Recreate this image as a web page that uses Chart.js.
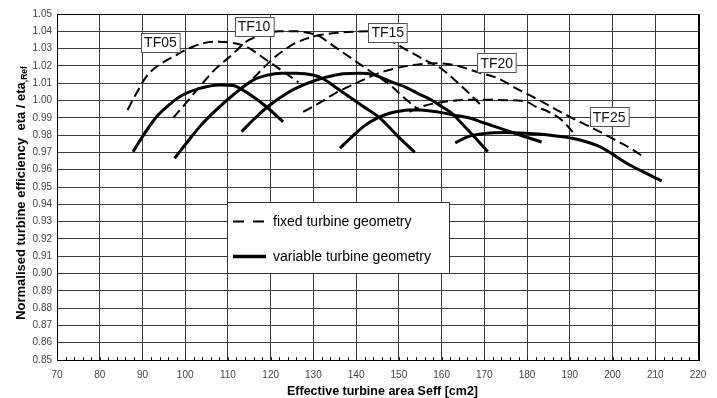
<!DOCTYPE html>
<html>
<head>
<meta charset="utf-8">
<script src="https://cdn.jsdelivr.net/npm/chart.js"></script>
<style>
  html, body { margin: 0; padding: 0; background: #fff; }
  #wrap { width: 717px; height: 398px; }
</style>
</head>
<body>
<div id="wrap"><canvas id="chart"></canvas></div>
<script>
// axis ticks
const xTicks = [70, 80, 90, 100, 110, 120, 130, 140, 150, 160, 170, 180, 190, 200, 210, 220];
const yTicks = [0.85, 0.86, 0.87, 0.88, 0.89, 0.90, 0.91, 0.92, 0.93, 0.94, 0.95,
                0.96, 0.97, 0.98, 0.99, 1.00, 1.01, 1.02, 1.03, 1.04, 1.05];

// fixed turbine geometry (dashed)
const tf05FixedX = [86.5, 88.6, 90.9, 93.3, 97.2, 101.8, 106.5, 111.1, 114.3, 119.0, 122.5, 126.5];
const tf05FixedY = [0.9945, 1.0042, 1.0138, 1.0195, 1.0253, 1.0311, 1.0340, 1.0333, 1.0311, 1.0234, 1.0175, 1.0105];

const tf10FixedX = [97.2, 100, 103.4, 107, 111.2, 114.3, 118, 122, 126, 129, 131.1, 135, 140, 145, 148.4, 151, 154.2];
const tf10FixedY = [0.990, 0.998, 1.008, 1.018, 1.027, 1.034, 1.038, 1.040, 1.040, 1.039, 1.0375, 1.031, 1.0225, 1.014, 1.008, 1.002, 0.9955];

const tf15FixedX = [115.9, 118, 120.2, 122.5, 124.9, 128, 131.9, 136, 140, 144, 146, 148.5, 152, 156, 159.6, 163, 166.5, 169.7];
const tf15FixedY = [1.0128, 1.018, 1.0234, 1.028, 1.032, 1.0355, 1.038, 1.0392, 1.0398, 1.040, 1.0385, 1.034, 1.029, 1.0235, 1.019, 1.012, 1.004, 0.996];

const tf20FixedX = [127.6, 131, 135, 140, 145, 150, 155, 159, 163, 168.3, 173, 178, 183, 187, 190.7, 195, 200, 204, 207.5];
const tf20FixedY = [0.9934, 0.998, 1.004, 1.010, 1.0155, 1.019, 1.021, 1.0215, 1.0205, 1.0165, 1.013, 1.0063, 1.000, 0.9945, 0.9897, 0.9845, 0.978, 0.9727, 0.967];

const tf25FixedX = [152.5, 156, 160, 165, 170, 175, 179.8, 182, 185, 188.1, 190.7];
const tf25FixedY = [0.9935, 0.997, 0.999, 1.0003, 1.0005, 1.0002, 0.9993, 0.9965, 0.9935, 0.9887, 0.9818];

// variable turbine geometry (solid)
const tf05VarX = [87.8, 90.5, 93.3, 96, 98.7, 103.4, 108.1, 111.2, 113.5, 115.9, 119.0, 122.9];
const tf05VarY = [0.9704, 0.981, 0.9906, 0.997, 1.0022, 1.0070, 1.0090, 1.0087, 1.006, 1.0022, 0.9964, 0.9877];

const tf10VarX = [97.5, 100.5, 103.4, 107, 111.2, 115.9, 119, 122.5, 126, 129.9, 132.5, 135, 137.8, 141.5, 145.5, 149.5, 153.7];
const tf10VarY = [0.9666, 0.976, 0.9849, 0.994, 1.0032, 1.0118, 1.0145, 1.0158, 1.0158, 1.0147, 1.0123, 1.008, 1.0032, 0.9968, 0.9899, 0.980, 0.970];

const tf15VarX = [113.2, 116, 119.3, 124, 128.7, 133, 137, 141, 144, 147, 149, 151.3, 154.5, 157.6, 160, 162.3, 165, 167.7, 170.8];
const tf15VarY = [0.982, 0.989, 0.9964, 1.0045, 1.010, 1.0135, 1.0155, 1.0158, 1.015, 1.012, 1.010, 1.008, 1.004, 1.0003, 0.9965, 0.9928, 0.986, 0.9789, 0.9704];

const tf20VarX = [136.2, 139, 142, 144.8, 147.8, 150, 152.5, 155, 157.5, 160, 163, 166.3, 170, 174.8, 179, 183.4];
const tf20VarY = [0.9724, 0.979, 0.9855, 0.9897, 0.9926, 0.9938, 0.9945, 0.9945, 0.9939, 0.993, 0.9915, 0.990, 0.987, 0.983, 0.9795, 0.976];

const tf25VarX = [163.2, 166, 170.3, 175, 179.9, 185, 190.8, 194, 197, 200, 203.3, 207, 211.5];
const tf25VarY = [0.9755, 0.979, 0.981, 0.9815, 0.981, 0.980, 0.978, 0.976, 0.9733, 0.969, 0.9637, 0.959, 0.9535];

// curve labels
const tfNames = ["TF05", "TF10", "TF15", "TF20", "TF25"];
const labelAnchors = [[94.2, 1.0335], [116.1, 1.0427], [147.4, 1.0393], [172.9, 1.0217], [199.2, 0.9905]];

const legendNames = ["fixed turbine geometry", "variable turbine geometry"];
const xTitle = "Effective turbine area Seff [cm2]";
const yTitleMain = "Normalised turbine efficiency  eta / eta";
const yTitleSub = ",Ref";

const FONT = "'Liberation Sans', Arial, sans-serif";

function pts(xs, ys) {
    return xs.map((x, i) => ({ x: x, y: ys[i] }));
}

function curve(xs, ys, dashed) {
    return {
        data: pts(xs, ys),
        showLine: true,
        borderColor: "#000",
        borderWidth: dashed ? 2 : 3,
        borderDash: dashed ? [10, 5] : [],
        pointRadius: 0,
        cubicInterpolationMode: "monotone",
        order: dashed ? 2 : 1
    };
}

const decorations = {
    id: "decorations",
    afterDatasetsDraw(chart) {
        const ctx = chart.ctx;
        const area = chart.chartArea;
        const xs = chart.scales.x, ys = chart.scales.y;

        ctx.save();
        // frame
        ctx.strokeStyle = "#000";
        ctx.lineWidth = 1;
        ctx.strokeRect(Math.round(area.left) + 0.5, Math.round(area.top) + 0.5,
                       Math.round(area.right - area.left), Math.round(area.bottom - area.top));
        ctx.beginPath();
        ctx.moveTo(Math.round(area.right) + 1.5, area.top);
        ctx.lineTo(Math.round(area.right) + 1.5, area.bottom + 1);
        ctx.stroke();

        // minor ticks on x axis
        ctx.strokeStyle = "#222";
        for (let v = xTicks[0]; v <= xTicks[xTicks.length - 1]; v += 2) {
            const px = Math.round(xs.getPixelForValue(v)) + 0.5;
            ctx.beginPath();
            ctx.moveTo(px, area.bottom);
            ctx.lineTo(px, area.bottom - 3);
            ctx.stroke();
        }

        // curve labels
        ctx.font = "14px " + FONT;
        ctx.textAlign = "center";
        ctx.textBaseline = "middle";
        tfNames.forEach((name, i) => {
            const cx = xs.getPixelForValue(labelAnchors[i][0]);
            const cy = ys.getPixelForValue(labelAnchors[i][1]);
            const w = ctx.measureText(name).width + 6;
            const h = 19;
            const l = Math.round(cx - w / 2) + 0.5, t = Math.round(cy - h / 2) + 0.5;
            ctx.fillStyle = "#fff";
            ctx.fillRect(l, t, w, h);
            ctx.strokeStyle = "#555";
            ctx.lineWidth = 1;
            ctx.strokeRect(l, t, w, h);
            ctx.fillStyle = "#111";
            ctx.fillText(name, cx, cy + 1);
        });

        // legend box
        const lx = area.left + 170, ly = area.top + 188, lw = 222, lh = 71;
        ctx.fillStyle = "#fff";
        ctx.fillRect(lx, ly, lw, lh);
        ctx.strokeStyle = "#333";
        ctx.lineWidth = 1;
        ctx.strokeRect(Math.round(lx) + 0.5, Math.round(ly) + 0.5, lw, lh);

        const row1 = ly + 19.5, row2 = ly + 54.5;
        ctx.strokeStyle = "#000";
        ctx.lineWidth = 2;
        ctx.setLineDash([11, 9]);
        ctx.beginPath();
        ctx.moveTo(lx + 6, row1);
        ctx.lineTo(lx + 39, row1);
        ctx.stroke();
        ctx.setLineDash([]);
        ctx.lineWidth = 3.5;
        ctx.beginPath();
        ctx.moveTo(lx + 6, row2);
        ctx.lineTo(lx + 39, row2);
        ctx.stroke();

        ctx.fillStyle = "#000";
        ctx.font = "14px " + FONT;
        ctx.textAlign = "left";
        ctx.fillText(legendNames[0], lx + 46, row1 + 1);
        ctx.fillText(legendNames[1], lx + 46, row2 + 1);

        // x title
        ctx.font = "bold 12.5px " + FONT;
        ctx.textAlign = "center";
        ctx.fillText(xTitle, (area.left + area.right) / 2 + 5, 392);

        // y title with subscript
        ctx.translate(21, (area.top + area.bottom) / 2 + 6);
        ctx.rotate(-Math.PI / 2);
        ctx.font = "bold 13px " + FONT;
        const w1 = ctx.measureText(yTitleMain).width;
        ctx.font = "bold 8.5px " + FONT;
        const w2 = ctx.measureText(yTitleSub).width;
        const start = -(w1 + w2) / 2;
        ctx.textAlign = "left";
        ctx.font = "bold 13px " + FONT;
        ctx.fillText(yTitleMain, start, 0);
        ctx.font = "bold 8.5px " + FONT;
        ctx.fillText(yTitleSub, start + w1, 4);
        ctx.restore();
    }
};

new Chart(document.getElementById("chart"), {
    type: "scatter",
    data: {
        datasets: [
            curve(tf05VarX, tf05VarY, false),
            curve(tf10VarX, tf10VarY, false),
            curve(tf15VarX, tf15VarY, false),
            curve(tf20VarX, tf20VarY, false),
            curve(tf25VarX, tf25VarY, false),
            curve(tf05FixedX, tf05FixedY, true),
            curve(tf10FixedX, tf10FixedY, true),
            curve(tf15FixedX, tf15FixedY, true),
            curve(tf20FixedX, tf20FixedY, true),
            curve(tf25FixedX, tf25FixedY, true)
        ]
    },
    options: {
        responsive: true,
        maintainAspectRatio: false,
        animation: false,
        layout: { padding: { top: 14, right: 19, left: 0, bottom: 0 } },
        plugins: {
            legend: { display: false },
            tooltip: { enabled: false }
        },
        scales: {
            x: {
                type: "linear",
                min: 70,
                max: 220,
                afterBuildTicks: s => { s.ticks = xTicks.map(v => ({ value: v })); },
                afterFit: s => { s.height = 38; },
                grid: { color: "#3a3a3a", lineWidth: 1, drawTicks: false },
                border: { color: "#000", width: 1 },
                ticks: {
                    autoSkip: false,
                    maxRotation: 0,
                    padding: 9,
                    color: "#444",
                    font: { family: FONT, size: 10 },
                    callback: v => String(v)
                }
            },
            y: {
                type: "linear",
                min: 0.85,
                max: 1.05,
                afterBuildTicks: s => { s.ticks = yTicks.map(v => ({ value: v })); },
                afterFit: s => { s.width = 57; },
                grid: { color: "#3a3a3a", lineWidth: 1, drawTicks: false },
                border: { color: "#000", width: 1 },
                ticks: {
                    autoSkip: false,
                    padding: 5,
                    color: "#444",
                    font: { family: FONT, size: 10 },
                    callback: v => Number(v).toFixed(2)
                }
            }
        }
    },
    plugins: [decorations]
});
</script>
</body>
</html>
